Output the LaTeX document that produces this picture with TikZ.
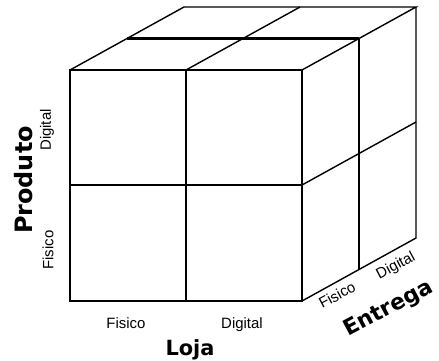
\documentclass[tikz,border=0pt]{standalone}
\usepackage{fontspec}
\setmainfont{Liberation Sans}
\newfontfamily\bigfont{DejaVu Sans}
\begin{document}
\begin{tikzpicture}[x=1bp,y=-1bp,
  edge/.style={line width=1.4bp,line join=miter},
  midedge/.style={line width=2.2bp},
  small/.style={font=\fontsize{15}{15}\selectfont,inner sep=0pt},
  axis/.style={font=\bigfont\bfseries\fontsize{21}{21}\selectfont,inner sep=0pt}]
\useasboundingbox (0,0) rectangle (439,360);
% front face
\draw[edge] (70,70) rectangle (302,301);
\draw[edge] (186,70) -- (186,301);
\draw[edge] (70,185) -- (302,185);
% top face
\draw[edge] (70,70) -- (184,7) -- (416,7) -- (302,70);
\draw[edge] (186,70) -- (300,7);
\draw[midedge] (127,38.5) -- (359,38.5);
% right face
\draw[edge] (416,7) -- (416,238) -- (302,301);
\draw[midedge] (359,38.5) -- (359,269.5);
\draw[edge] (302,185) -- (416,122);
% labels
\node[axis,font=\bigfont\bfseries\fontsize{24}{24}\selectfont,rotate=90] (produto) at (24,180) {Produto};
\node[small,rotate=90] (pdig) at (47,130) {Digital};
\node[small,rotate=90] (pfis) at (48,250) {Fisico};
\node[small,anchor=base] (lfis) at (126,328) {Fisico};
\node[small,anchor=base] (ldig) at (242,328) {Digital};
\node[axis,anchor=base] (loja) at (190,355) {Loja};
\node[small,rotate=28] (efis) at (337,295) {Fisico};
\node[small,rotate=28] (edig) at (396,266) {Digital};
\node[axis,font=\bigfont\bfseries\fontsize{22}{22}\selectfont,rotate=28] (entrega) at (389,309) {Entrega};
\end{tikzpicture}
\end{document}
